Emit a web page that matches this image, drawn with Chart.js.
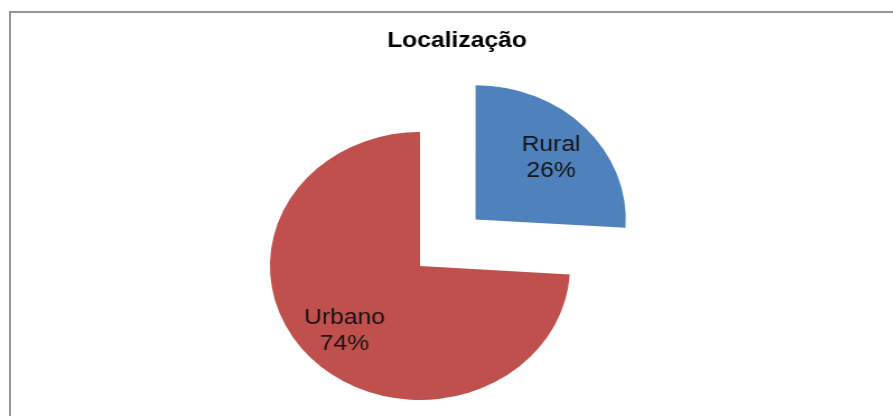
<!DOCTYPE html>
<html>
<head>
<meta charset="utf-8">
<script src="https://cdn.jsdelivr.net/npm/chart.js@4.4.1/dist/chart.umd.min.js"></script>
<style>
  html, body { margin: 0; padding: 0; background: #fff; }
  body { width: 893px; height: 416px; overflow: hidden; position: relative; }
  /* chart box frame (only top and left edges are visible in the crop) */
  #frame { position: absolute; left: 9px; top: 11px; width: 1000px; height: 500px;
           border-top: 2px solid #959595; border-left: 2px solid #959595; }
  /* the original picture is stretched horizontally, so the canvas is too */
  #wrap { position: absolute; left: 0; top: 0; width: 797px; height: 416px;
          transform: scaleX(1.12); transform-origin: 0 0; }
</style>
</head>
<body>
<div id="frame"></div>
<div id="wrap"><canvas id="myChart"></canvas></div>
<script>
// Data
const titleText = "Localização";
const categories = ["Rural", "Urbano"];
const shares = [26, 74];
const sliceColors = ["#4F81BD", "#C0504D"];

// draws the title and the "name / percent" labels inside each slice
const sliceLabels = {
  id: "sliceLabels",
  afterDatasetsDraw(chart) {
    const ctx = chart.ctx;
    ctx.save();
    ctx.fillStyle = "#000";
    ctx.textAlign = "center";
    ctx.textBaseline = "middle";
    ctx.font = "bold 22px 'Liberation Sans', Arial, sans-serif";
    ctx.fillText(titleText, 408, 41);

    const meta = chart.getDatasetMeta(0);
    ctx.font = "22px 'Liberation Sans', Arial, sans-serif";
    ctx.fillStyle = "#141414";
    meta.data.forEach((arc, i) => {
      const p = arc.getProps(["x", "y", "startAngle", "endAngle", "outerRadius"], true);
      const mid = (p.startAngle + p.endAngle) / 2;
      const off = (arc.options.offset || 0) / 4;
      const r = off + p.outerRadius * 0.69;
      const cx = p.x + Math.cos(mid) * r;
      const cy = p.y + Math.sin(mid) * r;
      ctx.fillText(categories[i], cx, cy - 11);
      ctx.fillText(shares[i] + "%", cx, cy + 15);
    });
    ctx.restore();
  }
};

const data = {
  labels: categories,
  datasets: [{
    data: shares,
    backgroundColor: sliceColors,
    borderWidth: 0,
    offset: [272, 0],
    hoverOffset: 0
  }]
};

const config = {
  type: "pie",
  data: data,
  options: {
    responsive: true,
    maintainAspectRatio: false,
    animation: false,
    radius: 134,
    layout: { padding: { top: 116, bottom: 0, left: 0, right: 47 } },
    plugins: {
      legend: { display: false },
      title: { display: false },
      tooltip: { enabled: false }
    }
  },
  plugins: [sliceLabels]
};

let myChart = document.getElementById("myChart").getContext("2d");
let pieChart = new Chart(myChart, config);
</script>
</body>
</html>
